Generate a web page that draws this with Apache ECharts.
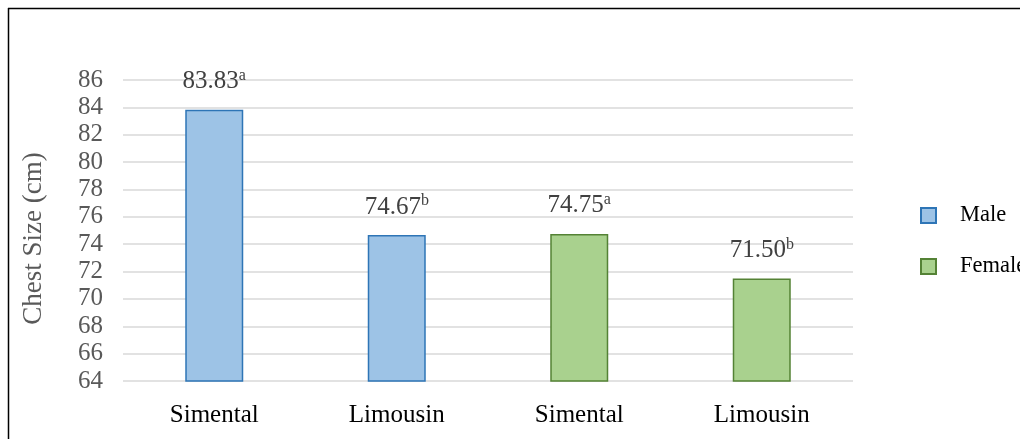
<!DOCTYPE html>
<html>
<head>
<meta charset="utf-8">
<style>
  html, body { margin: 0; padding: 0; background: #fff; }
  #chart { width: 1020px; height: 439px; }
</style>
<script src="https://cdn.jsdelivr.net/npm/echarts@6/dist/echarts.min.js"></script>
</head>
<body>
<div id="chart"></div>
<script>
// Chest size by breed and sex
const categories = ['Simental', 'Limousin', 'Simental', 'Limousin'];
const maleValues = [83.83, 74.67, null, null];
const femaleValues = [null, null, 74.75, 71.50];
const letters = ['a', 'b', 'a', 'b'];

const serif = '"Liberation Serif", "Times New Roman", serif';

function labelFor(params) {
  return '{v|' + params.value.toFixed(2) + '}{s|' + letters[params.dataIndex] + '}';
}

const labelStyle = {
  show: true,
  position: 'top',
  distance: 14,
  formatter: labelFor,
  rich: {
    v: { fontFamily: serif, fontSize: 25, color: '#404040', lineHeight: 28 },
    s: { fontFamily: serif, fontSize: 16, color: '#404040', verticalAlign: 'top', lineHeight: 28, padding: [0, 0, 11, 0] }
  }
};

const chart = echarts.init(document.getElementById('chart'));
chart.setOption({
  animation: false,
  backgroundColor: '#fff',
  grid: { left: 123, right: 167, top: 80, bottom: 58 },
  legend: {
    orient: 'vertical',
    left: 915,
    top: 199,
    itemWidth: 15,
    itemHeight: 15,
    itemGap: 28,
    icon: 'rect',
    textStyle: { fontFamily: serif, fontSize: 22.5, color: '#000', padding: [0, 0, 0, 19] },
    data: ['Male', 'Female']
  },
  xAxis: {
    type: 'category',
    data: categories,
    axisLine: { show: false },
    axisTick: { show: false },
    axisLabel: { fontFamily: serif, fontSize: 25, color: '#000', margin: 22 }
  },
  yAxis: {
    type: 'value',
    min: 64,
    max: 86,
    interval: 2,
    name: 'Chest Size (cm)',
    nameLocation: 'middle',
    nameGap: 76,
    nameTextStyle: { fontFamily: serif, fontSize: 27, color: '#595959', padding: [0, 16, 0, 0] },
    axisLine: { show: false },
    axisTick: { show: false },
    axisLabel: { fontFamily: serif, fontSize: 25, color: '#595959', margin: 20 },
    splitLine: { lineStyle: { color: '#d9d9d9', width: 1.5 } }
  },
  series: [
    {
      name: 'Male',
      type: 'bar',
      data: maleValues,
      barWidth: 58,
      barGap: '-100%',
      itemStyle: { color: '#9dc3e6', borderColor: '#2e75b6', borderWidth: 1.5 },
      label: labelStyle
    },
    {
      name: 'Female',
      type: 'bar',
      data: femaleValues,
      barWidth: 58,
      itemStyle: { color: '#a9d18e', borderColor: '#548235', borderWidth: 1.5 },
      label: labelStyle
    }
  ],
  graphic: [
    { type: 'line', shape: { x1: 8, y1: 8.5, x2: 1020, y2: 8.5 }, style: { stroke: '#000', lineWidth: 1.5 } },
    { type: 'line', shape: { x1: 8.5, y1: 8, x2: 8.5, y2: 439 }, style: { stroke: '#000', lineWidth: 1.5 } }
  ]
});
</script>
</body>
</html>
